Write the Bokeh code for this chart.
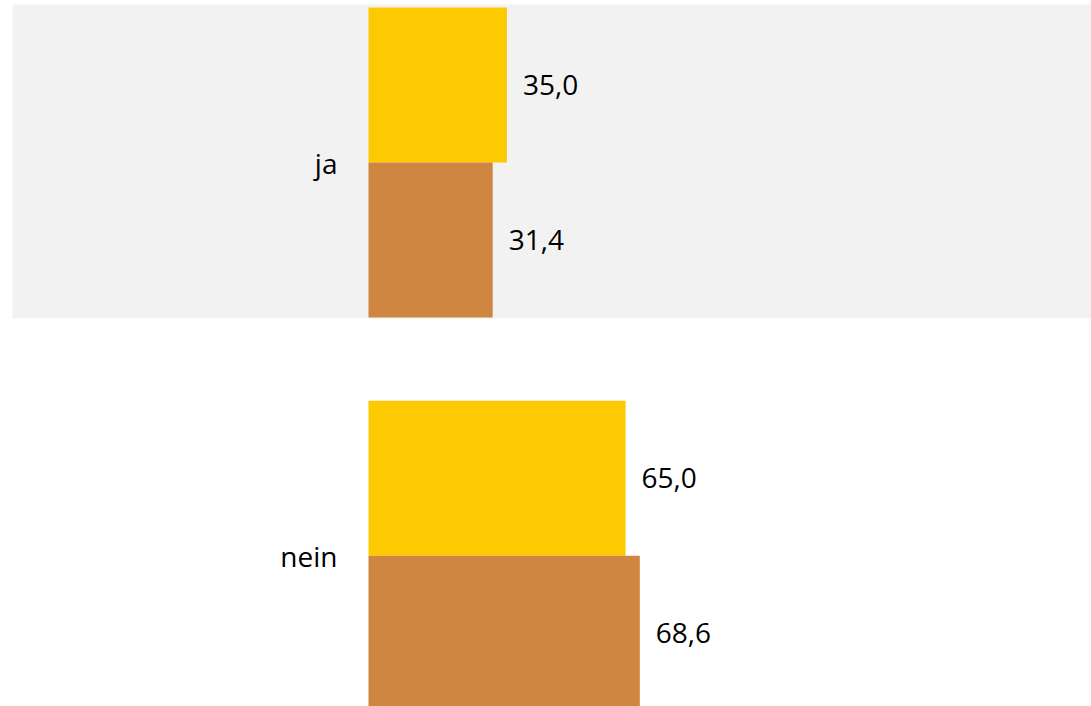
from bokeh.plotting import figure
from bokeh.models import ColumnDataSource, Range1d
from bokeh.core.properties import value
from bokeh.embed import file_html
from bokeh.resources import INLINE

categories = ["ja", "nein"]
series_yellow = [35.0, 65.0]
series_brown = [31.4, 68.6]

YELLOW = "#FDC900"
BROWN = "#CE8641"
BAND = "#F2F2F2"
FONT = "Open Sans"

ypos = [len(categories) - 1 - i for i in range(len(categories))]
bar_h = 0.394
off = bar_h / 2

src = ColumnDataSource(dict(
    y=ypos,
    cat=categories,
    yel=series_yellow,
    bro=series_brown,
    y_yel=[y + off for y in ypos],
    y_bro=[y - off for y in ypos],
    yel_lab=[f"{v:.1f}".replace(".", ",") for v in series_yellow],
    bro_lab=[f"{v:.1f}".replace(".", ",") for v in series_brown],
    zero=[0] * len(categories),
))

W, H = 1091, 706
scale = 3.955
unit_y = 393.3
x0 = -368 / scale
y_end = 1 + 162 / unit_y
y_start = -(H - 555.3) / unit_y

p = figure(width=W, height=H, output_backend="svg", toolbar_location=None,
           x_range=Range1d(x0, x0 + W / scale), y_range=Range1d(y_start, y_end),
           min_border=0)
p.xaxis.visible = False
p.yaxis.visible = False
p.grid.visible = False
p.outline_line_color = None
p.background_fill_color = "white"
p.border_fill_color = "white"

# grey band behind the first category
band_src = ColumnDataSource(dict(y=[ypos[0] + 0.0025]))
p.hbar(y="y", left=-90.0, right=400, height=0.798, source=band_src,
       fill_color=BAND, line_color=None)

p.hbar(y="y_yel", left="zero", right="yel", height=bar_h, source=src,
       fill_color=YELLOW, line_color=None)
p.hbar(y="y_bro", left="zero", right="bro", height=bar_h, source=src,
       fill_color=BROWN, line_color=None)

p.text(x="yel", y="y_yel", text="yel_lab", source=src, x_offset=16,
       text_align="left", text_baseline="middle", text_font=value(FONT),
       text_font_size="28px", text_color="black")
p.text(x="bro", y="y_bro", text="bro_lab", source=src, x_offset=16,
       text_align="left", text_baseline="middle", text_font=value(FONT),
       text_font_size="28px", text_color="black")
p.text(x="zero", y="y", text="cat", source=src, x_offset=-31,
       text_align="right", text_baseline="middle", text_font=value(FONT),
       text_font_size="28px", text_color="black")

open("out.html", "w").write(file_html(p, INLINE))
